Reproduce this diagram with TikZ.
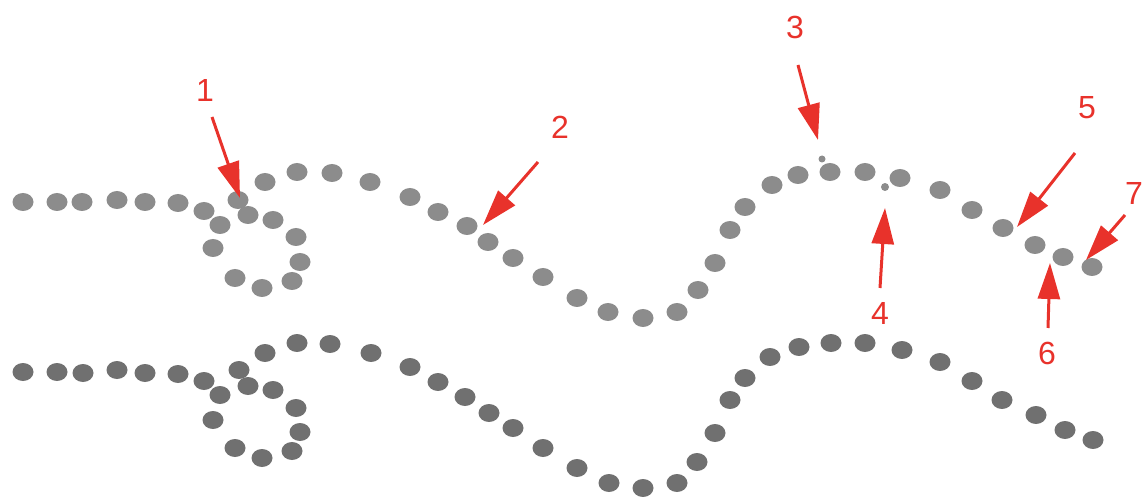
\documentclass[tikz,border=0pt]{standalone}
\usepackage{fontspec}
\setmainfont{Liberation Sans}
\usetikzlibrary{arrows.meta}
\definecolor{topgray}{HTML}{8C8C8C}
\definecolor{botgray}{HTML}{707070}
\definecolor{arrred}{HTML}{E8322B}
\begin{document}
\begin{tikzpicture}[x=1pt,y=-1pt,
  lab/.style={text=arrred, font=\fontsize{32}{38}\selectfont, inner sep=0pt},
  pointer/.style={draw=arrred, line width=3pt, -{Triangle[length=36pt,width=22pt]}},
  topdot/.style={fill=topgray},
  botdot/.style={fill=botgray}]
\useasboundingbox (0,0) rectangle (1144,497);
% upper dotted curve
\foreach \x/\y in {23/202,57/202,82/202,117/200,145/202,178/203,204/211,
  220/225,213/248,235/278,262/288,292/281,300/262,296/237,273/220,248/215,238/200,
  265/182,297/172,332/173,370/182,410/197,438/212,467/226,488/242,513/258,
  543/277,577/298,608/312,643/318,677/312,698/290,715/263,730/230,745/207,
  772/185,798/175,830/172,865/172,900/178,940/190,972/210,1003/228,1035/245,
  1063/257,1092/267}
  {\fill[topdot] (\x,\y) ellipse [x radius=10.5pt, y radius=9pt];}
\fill[topdot] (822,159) circle [radius=3.5pt];
\fill[topdot] (885,187) circle [radius=4pt];
% lower dotted curve
\foreach \x/\y in {23/372,57/372,83/373,117/370,145/373,178/374,204/381,
  220/395,213/420,235/448,262/458,292/451,300/432,296/408,273/390,248/386,239/370,
  265/353,297/343,330/344,371/353,410/367,438/382,465/397,489/413,513/428,
  543/448,577/468,609/483,643/488,677/483,697/462,715/433,730/400,745/378,
  770/357,799/347,831/343,865/343,902/350,940/362,972/381,1002/400,1036/415,
  1065/430,1093/440}
  {\fill[botdot] (\x,\y) ellipse [x radius=10.5pt, y radius=9pt];}
% labels
\node[lab] (n1) at (205,90) {1};
\node[lab] (n2) at (560,127) {2};
\node[lab] (n3) at (795,27) {3};
\node[lab] (n4) at (880,313) {4};
\node[lab] (n5) at (1087,108) {5};
\node[lab] (n6) at (1047,353) {6};
\node[lab] (n7) at (1134,193) {7};
% arrow ends
\coordinate (s1) at (212,117); \coordinate (t1) at (240,198);
\coordinate (s2) at (538,162); \coordinate (t2) at (483,225);
\coordinate (s3) at (798,65);  \coordinate (t3) at (818,140);
\coordinate (s4) at (880,288); \coordinate (t4) at (885,208);
\coordinate (s5) at (1075,153); \coordinate (t5) at (1017,227);
\coordinate (s6) at (1048,328); \coordinate (t6) at (1050,263);
\coordinate (s7) at (1125,215); \coordinate (t7) at (1086,260);
\foreach \i in {1,...,7} {\draw[pointer] (s\i) -- (t\i);}
\end{tikzpicture}
\end{document}
